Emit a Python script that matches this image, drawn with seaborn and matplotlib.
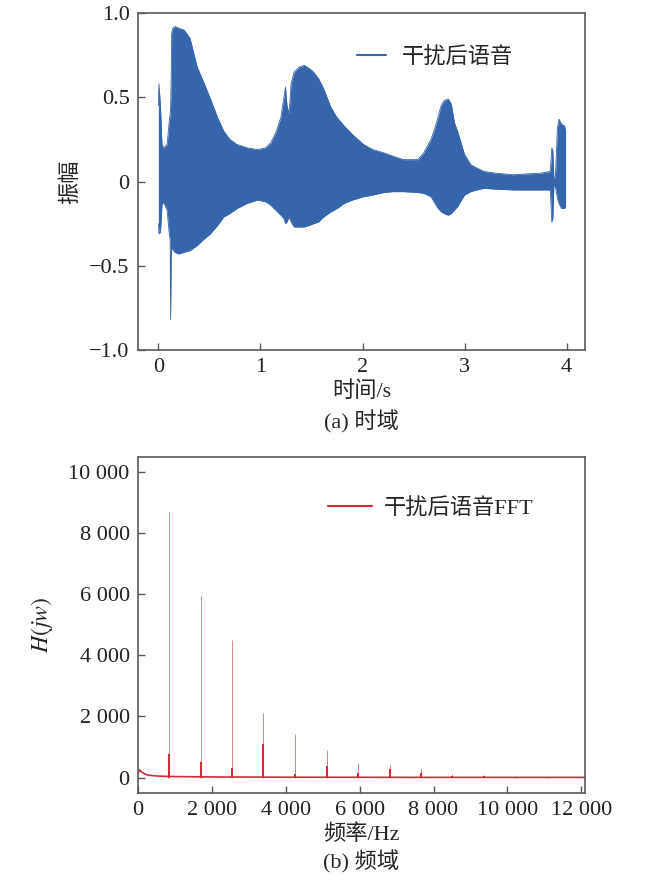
import matplotlib
matplotlib.use("Agg")
import matplotlib.pyplot as plt
import numpy as np
import pandas as pd
import seaborn as sns

# envelope of the time signal (time in s, amplitude)
t_env = [0.0, 0.005, 0.02, 0.035, 0.05, 0.085, 0.105, 0.115, 0.12, 0.125, 0.13, 0.14,
         0.16, 0.2, 0.25, 0.31, 0.38, 0.45, 0.51, 0.58, 0.64, 0.7, 0.77, 0.87, 0.97,
         1.05, 1.1, 1.15, 1.2, 1.23, 1.245, 1.26, 1.28, 1.3, 1.33, 1.38, 1.43, 1.48,
         1.52, 1.57, 1.62, 1.69, 1.75, 1.82, 1.9, 2.01, 2.1, 2.21, 2.3, 2.4, 2.54,
         2.6, 2.67, 2.7, 2.73, 2.77, 2.8, 2.84, 2.87, 2.9, 2.93, 2.97, 3.0, 3.06,
         3.12, 3.19, 3.3, 3.48, 3.6, 3.75, 3.84, 3.855, 3.865, 3.875, 3.89, 3.91,
         3.925, 3.95, 3.98, 3.99]
env_upper = [0.45, 0.58, 0.45, 0.22, 0.20, 0.22, 0.35, 0.40, 0.45, 0.60, 0.88, 0.91,
             0.92, 0.91, 0.90, 0.85, 0.68, 0.58, 0.49, 0.38, 0.30, 0.25, 0.22, 0.20, 0.19,
             0.20, 0.23, 0.29, 0.38, 0.50, 0.56, 0.45, 0.40, 0.58, 0.65, 0.68, 0.69, 0.67,
             0.65, 0.61, 0.55, 0.44, 0.38, 0.33, 0.28, 0.22, 0.19, 0.17, 0.15, 0.13, 0.13,
             0.17, 0.25, 0.30, 0.36, 0.45, 0.48, 0.49, 0.46, 0.35, 0.30, 0.22, 0.16, 0.10,
             0.08, 0.06, 0.05, 0.04, 0.045, 0.05, 0.06, 0.20, 0.18, 0.02, 0.03, 0.32,
             0.37, 0.34, 0.33, 0.30]
env_lower = [-0.25, -0.31, -0.30, -0.14, -0.12, -0.17, -0.30, -0.35, -0.82, -0.45, -0.40, -0.40,
             -0.42, -0.43, -0.42, -0.41, -0.38, -0.34, -0.31, -0.26, -0.21, -0.19, -0.16, -0.13, -0.11,
             -0.12, -0.14, -0.17, -0.20, -0.22, -0.25, -0.24, -0.21, -0.24, -0.27, -0.27, -0.27, -0.26,
             -0.25, -0.24, -0.21, -0.18, -0.16, -0.13, -0.11, -0.09, -0.08, -0.065, -0.06, -0.06, -0.065,
             -0.07, -0.09, -0.12, -0.15, -0.18, -0.19, -0.20, -0.19, -0.17, -0.15, -0.11, -0.08, -0.06,
             -0.05, -0.04, -0.045, -0.05, -0.05, -0.05, -0.05, -0.24, -0.22, -0.02, -0.03, -0.10,
             -0.13, -0.16, -0.16, -0.15]

# spectrum: harmonic peaks and the low broad floor
peak_freq = [847, 1694, 2550, 3387, 4252, 5108, 5955, 6811, 7658, 8505, 9353, 10205, 11059, 11900]
peak_amp = [8680, 5950, 4500, 2120, 1440, 900, 490, 400, 270, 130, 75, 45, 35, 20]
base_amp = [760, 510, 330, 1090, 120, 390, 150, 300, 150, 60, 40, 20, 15, 10]
floor_freq = [0, 40, 80, 120, 200, 300, 450, 700, 1000, 2000, 4000, 8000, 12100]
floor_amp = [150, 260, 200, 170, 110, 80, 60, 45, 35, 25, 15, 10, 10]

t_ticks = [0, 1, 2, 3, 4]
amp_ticks = [-1.0, -0.5, 0, 0.5, 1.0]
amp_labels = ["\u22121.0", "\u22120.5", "0", "0.5", "1.0"]
f_ticks = [0, 2000, 4000, 6000, 8000, 10000, 12000]
h_ticks = [0, 2000, 4000, 6000, 8000, 10000]

sns.set_theme(style="ticks")
plt.rcParams['font.family'] = ['Liberation Serif', 'Noto Sans CJK SC']
plt.rcParams['mathtext.fontset'] = 'stix'
plt.rcParams['axes.unicode_minus'] = True

blue = '#3565aa'
red = '#d42a35'
spine_c = '#5a5a5a'
fs = 16

fig = plt.figure(figsize=(6.5, 8.81), dpi=100)
ax1 = fig.add_axes([0.2123, 0.6027, 0.6877, 0.3825])
ax2 = fig.add_axes([0.2123, 0.0999, 0.6877, 0.3814])

# time domain
df_t = pd.DataFrame({'t': t_env, 'up': env_upper, 'lo': env_lower})
ax1.fill_between(df_t['t'], df_t['lo'], df_t['up'], color=blue, lw=0)
sns.lineplot(data=df_t, x='t', y='up', ax=ax1, color=blue, lw=0.6, sort=False,
             estimator=None, label='干扰后语音')
sns.lineplot(data=df_t, x='t', y='lo', ax=ax1, color=blue, lw=0.6, sort=False,
             estimator=None, legend=False)
ax1.set_xlim(-0.2, 4.18)
ax1.set_ylim(-1.0, 1.0)
ax1.set_xticks(t_ticks)
ax1.set_xticklabels([str(v) for v in t_ticks])
ax1.set_yticks(amp_ticks)
ax1.set_yticklabels(amp_labels)
ax1.set_xlabel('时间/s', fontsize=fs, labelpad=3)
ax1.set_ylabel('振幅', fontsize=fs)
ax1.yaxis.set_label_coords(-0.128, 0.5)
leg1 = ax1.legend(loc='center left', bbox_to_anchor=(0.49, 0.869), frameon=False,
                  fontsize=fs, handlelength=1.3, handletextpad=0.7, borderpad=0, borderaxespad=0)
for h in leg1.get_lines():
    h.set_linewidth(1.5)

# frequency domain
ax2.vlines(peak_freq, 0, peak_amp, color='#e2858b', lw=0.7)
ax2.vlines(peak_freq, 0, base_amp, color=red, lw=1.5)
df_f = pd.DataFrame({'f': floor_freq, 'h': floor_amp})
sns.lineplot(data=df_f, x='f', y='h', ax=ax2, color=red, lw=1.2, estimator=None,
             label='干扰后语音FFT')
ax2.set_xlim(0, 12100)
ax2.set_ylim(-500, 10480)
ax2.set_xticks(f_ticks)
ax2.set_yticks(h_ticks)
fmt = lambda v: format(int(v), ',').replace(',', ' ')
ax2.set_xticklabels([fmt(v) for v in f_ticks])
ax2.set_yticklabels([fmt(v) for v in h_ticks])
ax2.set_xlabel('频率/Hz', fontsize=fs, labelpad=3)
ax2.set_ylabel('$H(jw)$', fontsize=fs + 1)
ax2.yaxis.set_label_coords(-0.186, 0.5)
leg2 = ax2.legend(loc='center left', bbox_to_anchor=(0.425, 0.848), frameon=False,
                  fontsize=fs, handlelength=2.0, handletextpad=0.5, borderpad=0, borderaxespad=0)
for h in leg2.get_lines():
    h.set_linewidth(1.5)

for ax in (ax1, ax2):
    for s in ax.spines.values():
        s.set_color(spine_c)
        s.set_linewidth(1.2)
    ax.tick_params(direction='in', length=5, width=1, color=spine_c,
                   labelsize=fs, pad=6, colors='#222222')
    ax.tick_params(axis='both', color=spine_c)

fig.text(0.5556, 1 - 422 / 881, '(a) 时域', ha='center', va='center', fontsize=fs)
fig.text(0.5556, 1 - 862 / 881, '(b) 频域', ha='center', va='center', fontsize=fs)

fig.savefig('out.png', dpi=100)
